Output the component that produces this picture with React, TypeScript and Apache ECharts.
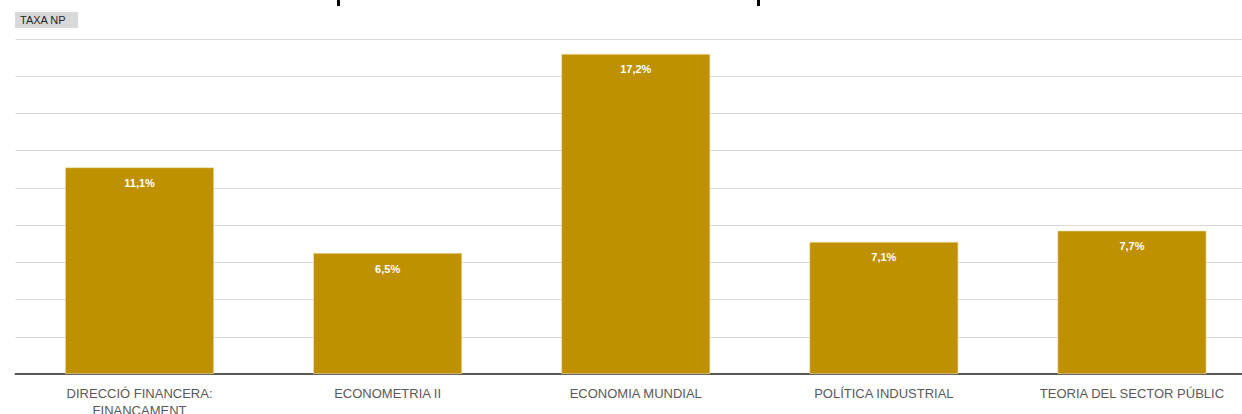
import React, { useEffect, useRef } from "react";
import * as echarts from "echarts";

const categories = [
  "DIRECCIÓ FINANCERA:\nFINANÇAMENT",
  "ECONOMETRIA II",
  "ECONOMIA MUNDIAL",
  "POLÍTICA INDUSTRIAL",
  "TEORIA DEL SECTOR PÚBLIC",
];
const taxaNP = [11.1, 6.5, 17.2, 7.1, 7.7];
const seriesName = "TAXA NP";

export default function App() {
  const ref = useRef<HTMLDivElement>(null);
  useEffect(() => {
    if (!ref.current) return;
    const chart = echarts.init(ref.current, undefined, { renderer: "svg" });
    chart.setOption({
      animation: false,
      backgroundColor: "#ffffff",
      textStyle: { fontFamily: "Liberation Sans" },
      grid: {
        left: 15.5,
        right: 0,
        top: 39,
        bottom: 40,
        containLabel: false,
        outerBoundsMode: "none",
      },
      xAxis: {
        type: "category",
        data: categories,
        axisLine: { lineStyle: { color: "#595959", width: 2 } },
        axisTick: { show: false },
        axisLabel: {
          color: "#595959",
          fontSize: 13,
          margin: 11,
          lineHeight: 17,
          interval: 0,
        },
      },
      yAxis: {
        type: "value",
        min: 0,
        max: 18,
        interval: 2,
        axisLabel: { show: false },
        axisLine: { show: false },
        axisTick: { show: false },
        splitLine: { lineStyle: { color: "#d9d9d9", width: 1 } },
      },
      graphic: [
        {
          type: "rect",
          left: 15,
          top: 12,
          shape: { width: 63, height: 16 },
          style: { fill: "#d9d9d9" },
        },
        {
          type: "text",
          left: 20,
          top: 14,
          style: {
            text: seriesName,
            fill: "#262626",
            font: "11px 'Liberation Sans Narrow', 'Liberation Sans'",
          },
        },
        { type: "rect", left: 337, top: 0, shape: { width: 3, height: 6 }, style: { fill: "#000" } },
        { type: "rect", left: 757, top: 0, shape: { width: 3, height: 6 }, style: { fill: "#000" } },
      ],
      series: [
        {
          name: seriesName,
          type: "bar",
          data: taxaNP,
          barWidth: "60%",
          itemStyle: { color: "#bf9000", borderColor: "#f2e3b8", borderWidth: 0.6 },
          label: {
            show: true,
            position: "insideTop",
            distance: 10,
            color: "#ffffff",
            fontWeight: "bold",
            fontSize: 11,
            formatter: (p: any) => p.value.toFixed(1).replace(".", ",") + "%",
          },
        },
      ],
    });
    return () => chart.dispose();
  }, []);
  return (
    <div
      style={{
        position: "fixed",
        left: 0,
        top: 0,
        width: 1242,
        height: 414,
        overflow: "hidden",
      }}
    >
      <div ref={ref} style={{ width: 1256, height: 414 }} />
    </div>
  );
}
